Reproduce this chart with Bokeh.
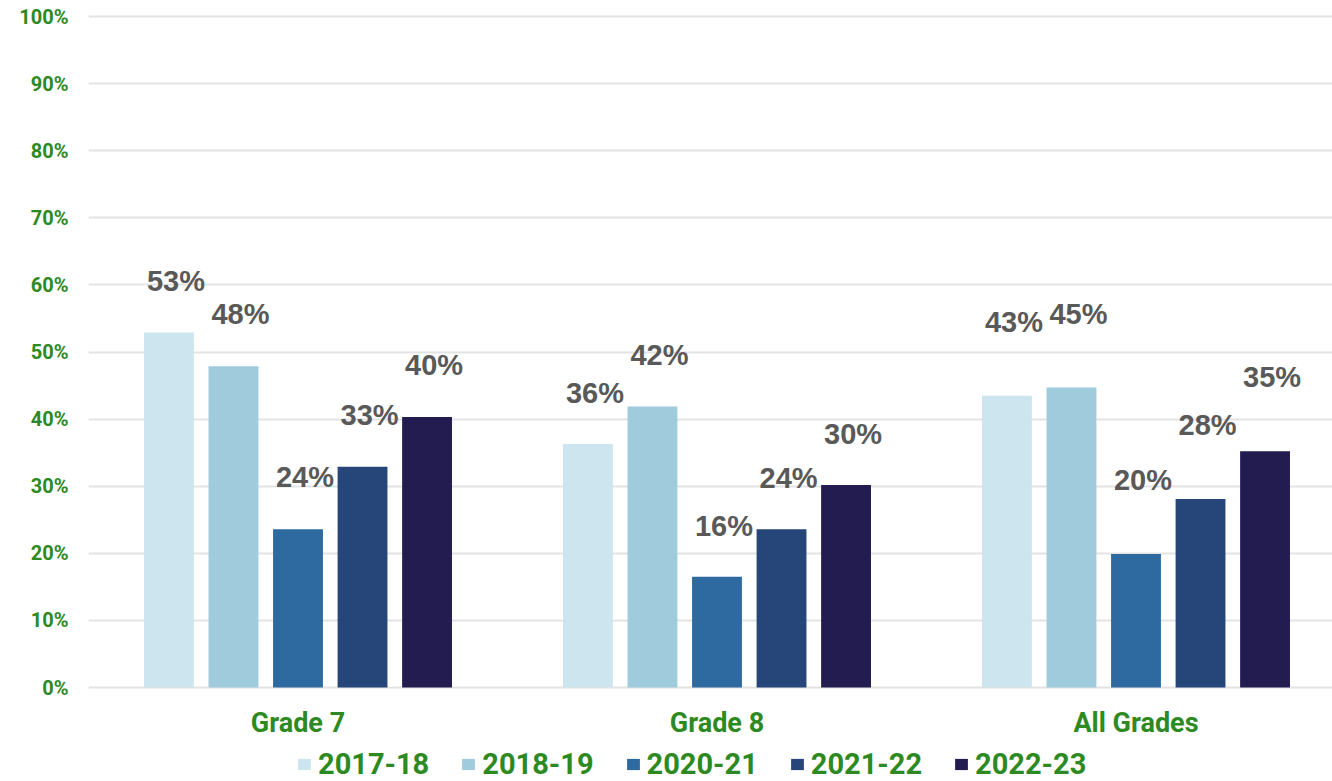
from bokeh.plotting import figure
from bokeh.models import (Range1d, FixedTicker, PrintfTickFormatter, Legend, LegendItem,
                          ColumnDataSource)
from bokeh.embed import file_html
from bokeh.resources import INLINE

# ---- data ----
categories = ["Grade 7", "Grade 8", "All Grades"]
years = ["2017-18", "2018-19", "2020-21", "2021-22", "2022-23"]
v_2017_18 = [52.9, 36.3, 43.5]
v_2018_19 = [47.9, 41.9, 44.7]
v_2020_21 = [23.6, 16.5, 19.9]
v_2021_22 = [32.9, 23.6, 28.1]
v_2022_23 = [40.3, 30.2, 35.2]
labels_2017_18 = ["53%", "36%", "43%"]
labels_2018_19 = ["48%", "42%", "45%"]
labels_2020_21 = ["24%", "16%", "20%"]
labels_2021_22 = ["33%", "24%", "28%"]
labels_2022_23 = ["40%", "30%", "35%"]
y_ticks = [0, 10, 20, 30, 40, 50, 60, 70, 80, 90, 100]

series_values = [v_2017_18, v_2018_19, v_2020_21, v_2021_22, v_2022_23]
series_labels = [labels_2017_18, labels_2018_19, labels_2020_21, labels_2021_22, labels_2022_23]

# ---- style ----
colors = ["#cde5ee", "#a0cbdd", "#2e699f", "#264679", "#221c50"]
green = "#2d8a22"
bar_step = 0.154
bar_w = 0.119
group_lift = [-52, -51, -74]   # label lift above bar (px), per category

# frame runs to the bottom edge so the legend can sit under the category labels
p = figure(width=1332, height=781, output_backend="svg", toolbar_location=None,
           x_range=Range1d(0, 1244 / 419), y_range=Range1d(-14.0, 100.3),
           min_border_left=88, min_border_right=0, min_border_top=14, min_border_bottom=0)
p.outline_line_color = None
p.xgrid.grid_line_color = None
p.ygrid.grid_line_color = "#e3e3e3"
p.ygrid.grid_line_width = 2
p.ygrid.ticker = FixedTicker(ticks=y_ticks)

p.yaxis.ticker = FixedTicker(ticks=y_ticks)
p.yaxis.formatter = PrintfTickFormatter(format="%d%%")
p.yaxis.axis_line_color = None
p.yaxis.major_tick_line_color = None
p.yaxis.minor_tick_line_color = None
p.yaxis.major_tick_out = 0
p.yaxis.major_tick_in = 0
p.yaxis.minor_tick_out = 0
p.yaxis.major_label_standoff = 20
p.yaxis.major_label_text_font = "Roboto"
p.yaxis.major_label_text_font_style = "bold"
p.yaxis.major_label_text_font_size = "20px"
p.yaxis.major_label_text_color = green

centers = [i + 0.5 for i in range(len(categories))]
p.xaxis.fixed_location = 0
p.xaxis.ticker = FixedTicker(ticks=centers)
p.xaxis.major_label_overrides = {c: name for c, name in zip(centers, categories)}
p.xaxis.axis_line_color = None
p.xaxis.major_tick_line_color = None
p.xaxis.minor_tick_line_color = None
p.xaxis.major_tick_out = 0
p.xaxis.major_tick_in = 0
p.xaxis.minor_tick_out = 0
p.xaxis.major_label_standoff = 19
p.xaxis.major_label_text_font = "Roboto"
p.xaxis.major_label_text_font_style = "bold"
p.xaxis.major_label_text_font_size = "27px"
p.xaxis.major_label_text_color = green

items = []
for j, (yr, vals, labs, col) in enumerate(zip(years, series_values, series_labels, colors)):
    xs = [c + (j - 2) * bar_step for c in centers]
    src = ColumnDataSource(dict(x=xs, top=vals, lab=labs, lift=group_lift,
                                font=["Liberation Sans"] * len(xs)))
    r = p.vbar(x="x", top="top", width=bar_w, bottom=0, source=src,
               fill_color=col, line_color=None)
    p.text(x="x", y="top", text="lab", source=src, x_offset=7, y_offset="lift",
           text_align="center", text_baseline="middle", text_font="font",
           text_font_size="29px", text_font_style="bold", text_color="#595959")
    items.append(LegendItem(label=yr, renderers=[r]))

legend = Legend(items=items, orientation="horizontal", location=(208, 0),
                glyph_width=16, glyph_height=14, label_standoff=6, spacing=31,
                padding=0, margin=0, border_line_color=None, background_fill_alpha=0,
                label_text_font="Roboto", label_text_font_style="bold",
                label_text_font_size="29px", label_text_color=green)
p.add_layout(legend, "center")

open("out.html", "w").write(file_html(p, INLINE))
